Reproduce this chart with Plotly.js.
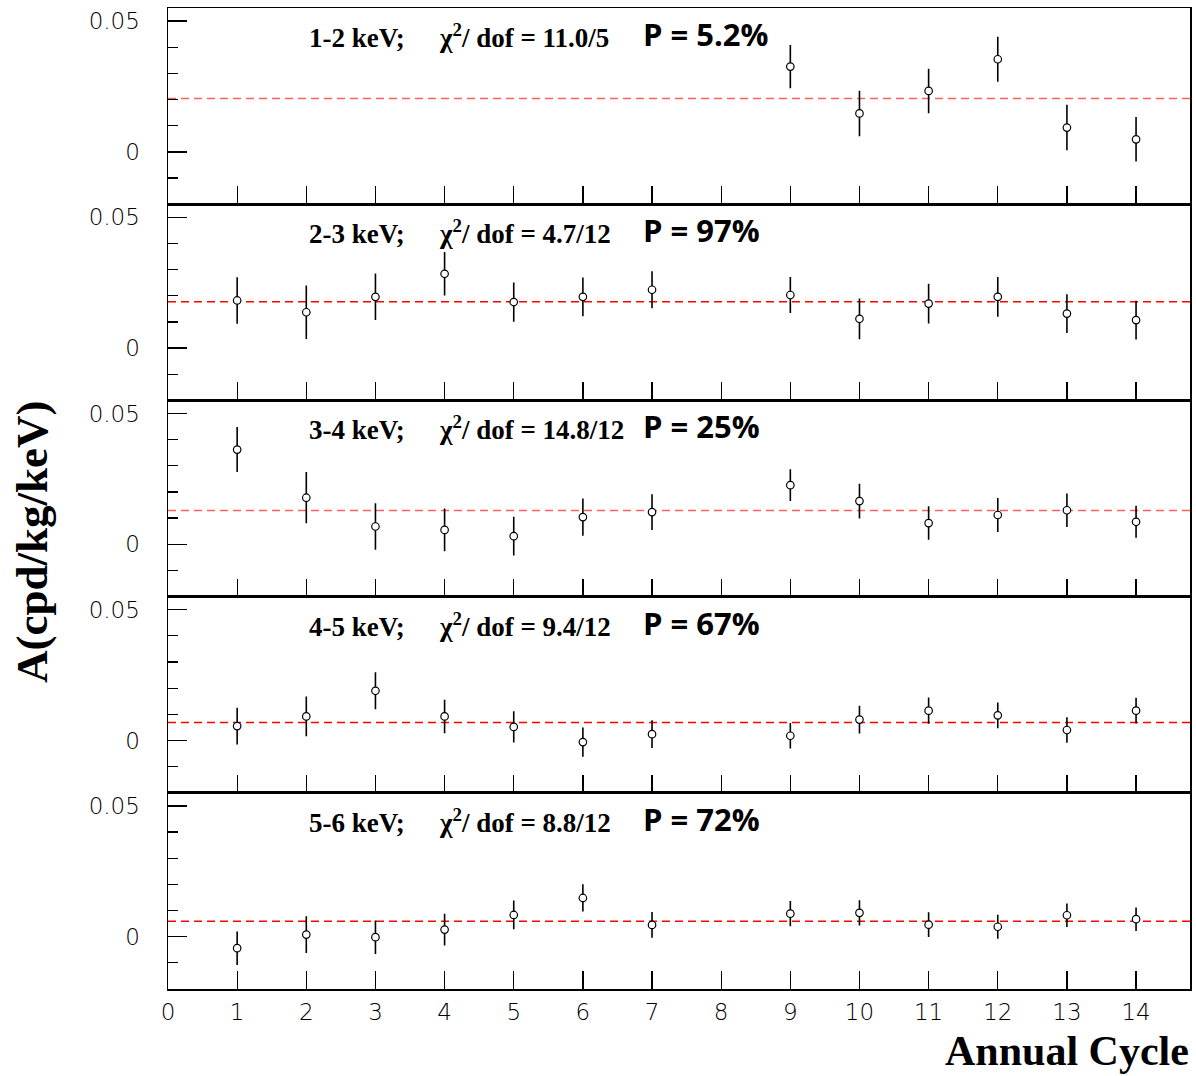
<!DOCTYPE html>
<html>
<head>
<meta charset="utf-8">
<script src="https://cdn.plot.ly/plotly-3.0.1.min.js"></script>
<style>html,body{margin:0;padding:0;background:#fff;}#chart{width:1196px;height:1076px;}</style>
</head>
<body>
<div id="chart"></div>
<script>
// ---- data ----
const cyclesTop = [9, 10, 11, 12, 13, 14];
const cycles = [1, 2, 3, 4, 5, 6, 7, 9, 10, 11, 12, 13, 14];

const amp1 = [0.0326, 0.0147, 0.0233, 0.0354, 0.0093, 0.0048];
const err1 = [0.0083, 0.0087, 0.0085, 0.0086, 0.0087, 0.0085];

const amp2 = [0.0182, 0.0137, 0.0196, 0.0284, 0.0176, 0.0196, 0.0223, 0.0203, 0.0112, 0.0170, 0.0196, 0.0132, 0.0107];
const err2 = [0.0089, 0.0102, 0.0089, 0.0083, 0.0075, 0.0074, 0.0071, 0.0069, 0.0078, 0.0076, 0.0076, 0.0074, 0.0074];

const amp3 = [0.0362, 0.0178, 0.0068, 0.0055, 0.0031, 0.0104, 0.0123, 0.0226, 0.0165, 0.0081, 0.0112, 0.0130, 0.0086];
const err3 = [0.0086, 0.0098, 0.0089, 0.0082, 0.0074, 0.0071, 0.0068, 0.0061, 0.0066, 0.0064, 0.0065, 0.0064, 0.0061];

const amp4 = [0.0055, 0.0092, 0.0190, 0.0092, 0.0052, -0.0006, 0.0024, 0.0018, 0.0080, 0.0114, 0.0096, 0.0040, 0.0114];
const err4 = [0.0070, 0.0076, 0.0071, 0.0064, 0.0060, 0.0056, 0.0053, 0.0049, 0.0053, 0.0050, 0.0049, 0.0049, 0.0049];

const amp5 = [-0.0044, 0.0008, -0.0002, 0.0027, 0.0083, 0.0148, 0.0045, 0.0088, 0.0091, 0.0046, 0.0038, 0.0082, 0.0067];
const err5 = [0.0064, 0.0070, 0.0064, 0.0061, 0.0055, 0.0052, 0.0049, 0.0048, 0.0048, 0.0047, 0.0046, 0.0045, 0.0045];

const fitValues = [0.0204, 0.0177, 0.0129, 0.0069, 0.0059];
const energyBins = ['1-2 keV;', '2-3 keV;', '3-4 keV;', '4-5 keV;', '5-6 keV;'];
const chi2Labels = ['11.0/5', '4.7/12', '14.8/12', '9.4/12', '8.8/12'];
const pValues = ['5.2%', '97%', '25%', '67%', '72%'];
const xTickVals = [0, 1, 2, 3, 4, 5, 6, 7, 8, 9, 10, 11, 12, 13, 14];
const xTickText = ['0', '1', '2', '3', '4', '5', '6', '7', '8', '9', '10', '11', '12', '13', '14'];
const yTickVals = [0, 0.05];
const yTickText = ['0', '0.05'];
const xTitle = 'Annual Cycle';
const yTitle = 'A(cpd/kg/keV)';

// ---- build ----
const panels = [
  {x: cyclesTop, y: amp1, e: err1},
  {x: cycles, y: amp2, e: err2},
  {x: cycles, y: amp3, e: err3},
  {x: cycles, y: amp4, e: err4},
  {x: cycles, y: amp5, e: err5}
];
const fitColors = ['rgb(255,95,95)', 'rgb(255,0,0)', 'rgb(255,95,95)', 'rgb(255,0,0)', 'rgb(255,0,0)'];

const W = 1196, H = 1076;
const mL = 168, mR = 6, mT = 8, mB = 87;
const plotW = W - mL - mR, plotH = H - mT - mB;
const nP = panels.length;
const panelH = plotH / nP;

const traces = [];
const layout = {
  width: W, height: H,
  margin: {l: mL, r: mR, t: mT, b: mB, pad: 0},
  paper_bgcolor: '#fff', plot_bgcolor: '#fff',
  showlegend: false,
  shapes: [], annotations: []
};

const tickFont = {family: 'DejaVu Sans', size: 23, color: '#000', weight: 200};
const serifBold = {family: 'Liberation Serif, Times New Roman, serif', size: 27, color: '#000', weight: 'bold'};
const sansBold = {family: 'Open Sans, Lato, sans-serif', size: 31, color: '#000', weight: 'bold'};

panels.forEach((p, i) => {
  const n = i + 1;
  const xa = n === 1 ? 'x' : 'x' + n;
  const ya = n === 1 ? 'y' : 'y' + n;
  traces.push({
    type: 'scatter', mode: 'markers',
    x: p.x, y: p.y, xaxis: xa, yaxis: ya,
    error_y: {type: 'data', array: p.e, visible: true, color: '#000', thickness: 1.6, width: 0},
    marker: {symbol: 'circle', size: 7.5, color: '#fff', line: {color: '#000', width: 1.2}},
    hoverinfo: 'skip'
  });
  const top = 1 - i / nP, bot = 1 - (i + 1) / nP;
  const isBottom = i === nP - 1;
  layout['xaxis' + (n === 1 ? '' : n)] = {
    domain: [0, 1], anchor: ya, range: [0, 14.78],
    showline: true, linecolor: '#000', linewidth: 1.5, mirror: true,
    ticks: 'inside', ticklen: 18, tickwidth: 1.3, tickcolor: '#000',
    tickmode: 'array', tickvals: xTickVals, ticktext: xTickText,
    showticklabels: isBottom, tickfont: tickFont, ticklabelstandoff: 2,
    showgrid: false, zeroline: false, fixedrange: true
  };
  layout['yaxis' + (n === 1 ? '' : n)] = {
    domain: [bot, top], anchor: xa, range: [-0.02, 0.055],
    showline: true, linecolor: '#000', linewidth: 1.5, mirror: true,
    ticks: 'inside', ticklen: 19, tickwidth: 1.3, tickcolor: '#000',
    tickmode: 'array', tickvals: yTickVals, ticktext: yTickText,
    minor: {ticks: 'inside', ticklen: 10, tickwidth: 1.3, tickcolor: '#000', dtick: 0.01, tick0: 0, showgrid: false},
    tickfont: tickFont, ticklabelstandoff: 22,
    showgrid: false, zeroline: false, fixedrange: true
  };
  layout.shapes.push({
    type: 'line', xref: xa + ' domain', yref: ya,
    x0: 0, x1: 1, y0: fitValues[i], y1: fitValues[i],
    line: {color: fitColors[i], width: 1.6, dash: '8px,5px'}, layer: 'below'
  });
  const yd = ya + ' domain';
  const labY = 1 - 47 / panelH;
  layout.annotations.push({
    xref: 'paper', yref: yd, x: (307 - mL) / plotW, y: labY,
    xanchor: 'left', yanchor: 'bottom', showarrow: false,
    text: energyBins[i], font: serifBold
  });
  layout.annotations.push({
    xref: 'paper', yref: yd, x: (437 - mL) / plotW, y: labY,
    xanchor: 'left', yanchor: 'bottom', showarrow: false,
    text: '\u03C7<sup>2</sup>/ dof = ' + chi2Labels[i], font: serifBold
  });
  layout.annotations.push({
    xref: 'paper', yref: yd, x: (641 - mL) / plotW, y: 1 - 26 / panelH,
    xanchor: 'left', yanchor: 'middle', showarrow: false,
    text: 'P = ' + pValues[i], font: sansBold
  });
});

layout.annotations.push({
  xref: 'paper', yref: 'paper', x: 1, y: -(H - 1 - (H - mB)) / plotH,
  xanchor: 'right', yanchor: 'bottom', showarrow: false, borderpad: 0,
  text: xTitle, font: {family: 'Liberation Serif, Times New Roman, serif', size: 42, color: '#000', weight: 'bold'}
});
layout.annotations.push({
  xref: 'paper', yref: 'paper', x: (32 - mL) / plotW, y: ((H - mB) - 542) / plotH,
  xanchor: 'center', yanchor: 'middle', showarrow: false, textangle: -90,
  text: yTitle, font: {family: 'Liberation Serif, Times New Roman, serif', size: 45, color: '#000', weight: 'bold'}
});

Plotly.newPlot('chart', traces, layout, {displayModeBar: false, staticPlot: true});
</script>
</body>
</html>
